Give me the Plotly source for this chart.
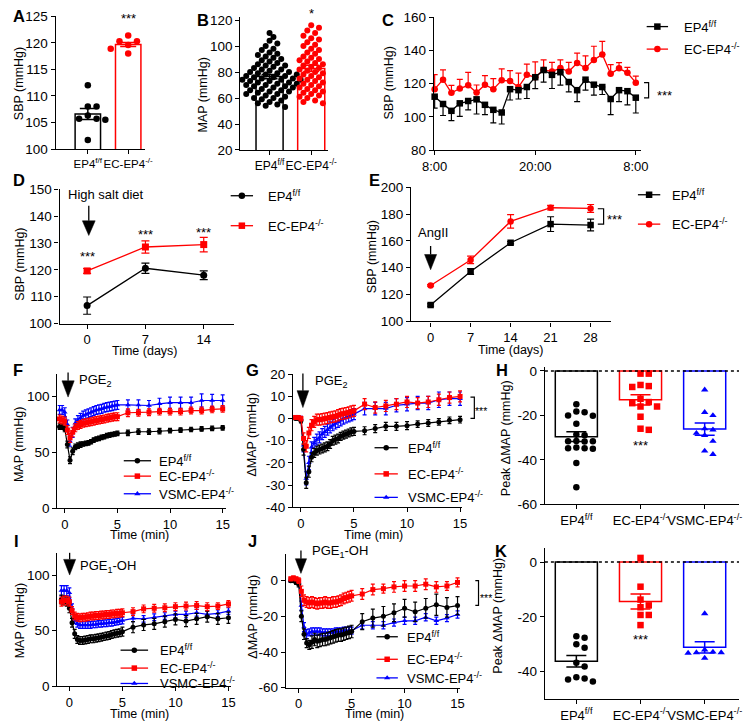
import numpy as np
import plotly.graph_objects as go

W, H = 748, 728
FONT = "Liberation Sans, Arial, Helvetica, sans-serif"
BLACK, RED, BLUE = "#000000", "#ff0000", "#0000ff"
TICK_SIZE, XTICK_SIZE, TITLE_SIZE, TEXT_SIZE, LEGEND_SIZE, LETTER_SIZE = 13.5, 13, 12.5, 13, 13, 16.5
CAT_SIZE = {"A": 11.5, "B": 12, "H": 13, "K": 13}

# ======================= DATA =======================
GROUP_LABELS = ["EP4<sup>f/f</sup>", "EC-EP4<sup>-/-</sup>", "VSMC-EP4<sup>-/-</sup>"]

# A: SBP (mmHg), individual mice
A_EP4 = [112.0, 108.0, 108.0, 106.3, 105.7, 105.7, 105.5, 101.7]
A_EC = [121.4, 120.3, 120.3, 120.2, 119.6, 118.9, 118.9, 118.0]

# B: MAP (mmHg), individual readings
B_EP4 = [110, 107, 104, 102, 100, 98, 97, 95, 94, 93,
         92, 91, 90, 89, 88, 87, 86, 85, 85, 84,
         83, 82, 82, 81, 80, 80, 79, 79, 78, 78,
         77, 77, 76, 76, 75, 75, 74, 74, 74, 73,
         73, 72, 72, 71, 71, 70, 70, 69, 69, 68,
         68, 67, 66, 66, 65, 65, 64, 63, 63, 62,
         61, 60, 60, 59, 58, 57, 56, 55, 54, 53]
B_EC = [116, 114, 112, 110, 108, 106, 105, 103, 101, 100,
        98, 97, 95, 94, 92, 91, 90, 89, 88, 87,
        86, 85, 84, 83, 82, 81, 80, 79, 78, 77,
        76, 75, 74, 73, 72, 71, 70, 69, 68, 67,
        66, 65, 64, 63, 62, 61, 60, 58, 57, 56]

# C: 24-h SBP telemetry (hours after 8:00)
C_HOURS = [0, 1, 2, 3, 4, 5, 6, 7, 8, 9, 10, 11, 12, 13, 14, 15, 16, 17, 18, 19, 20, 21, 22, 23, 24]
C_TICKVALS = [0, 12, 24]
C_TICKTEXT = ["8:00", "20:00", "8:00"]
C_EP4 = [112.2, 107.8, 103.7, 108.2, 109.6, 110.6, 107.3, 104.3, 102.7, 116.7,
         116.1, 118.0, 123.9, 128.2, 125.3, 126.9, 121.0, 116.1, 122.4, 119.4,
         118.0, 110.8, 116.1, 115.5, 111.6]
C_EP4_SE = [6.9, 6.9, 5.9, 7.8, 5.3, 8.8, 5.9, 7.8, 6.9, 6.5,
            5.3, 6.9, 6.9, 7.3, 8.2, 7.8, 5.9, 6.9, 6.3, 6.3,
            4.5, 9.4, 6.9, 8.2, 9.2]
C_EC = [116.7, 122.4, 114.5, 117.1, 119.0, 114.7, 119.4, 116.7, 122.0, 121.6,
        118.0, 125.3, 123.9, 128.4, 127.3, 129.4, 127.3, 132.4, 129.4, 134.3,
        137.6, 125.9, 129.2, 126.5, 120.6]
C_EC_SE = [8.8, 5.9, 4.5, 5.5, 7.8, 4.5, 5.5, 6.3, 6.9, 6.3,
           8.4, 6.5, 9.2, 5.9, 5.5, 4.9, 5.5, 5.9, 7.3, 8.2,
           7.8, 5.5, 3.5, 3.3, 3.9]

# D: high salt diet
D_DAYS = [0, 7, 14]
D_EP4 = [106.7, 120.6, 118.0]
D_EP4_SE = [3.2, 1.9, 1.6]
D_EC = [119.6, 128.5, 129.4]
D_EC_SE = [0.9, 2.3, 2.7]

# E: AngII
E_DAYS = [0, 7, 14, 21, 28]
E_EP4 = [112.2, 137.2, 158.6, 172.5, 171.8]
E_EP4_SE = [0.8, 2.2, 0.8, 5.5, 4.4]
E_EC = [126.8, 145.8, 174.5, 184.7, 184.2]
E_EC_SE = [0.6, 2.8, 5.0, 1.7, 2.9]

# F/G: PGE2 time courses (min)
T_FG = [-0.5, -0.25, 0, 0.25, 0.5, 0.75, 1, 1.25, 1.5, 1.75, 2, 2.25, 2.5, 2.75, 3, 3.25,
        3.5, 3.75, 4, 4.25, 4.5, 4.75, 5] + [6, 7, 8, 9, 10, 11, 12, 13, 14, 15]
F_EP4 = [73, 73, 71, 57, 43, 51, 55, 56, 57, 57.5, 58, 58.5, 59.5, 61, 62, 62.5, 63.5, 64, 65, 65.5,
         66, 66.5, 67] + [67.5, 68.5, 68.5, 69, 69.5, 70, 70.5, 71, 71.5, 72]
F_EP4_SE = [2.5, 2.5, 2.5, 3, 3, 3, 2.5, 2.5, 2.5, 2, 2, 2, 2, 2, 2, 2, 2, 2, 2, 2,
            2, 2, 2] + [2.5, 2.5, 2.5, 2.5, 2, 2, 2, 2, 2, 2]
F_EC = [80, 79, 78, 70, 63, 68, 72, 74, 75, 76, 76.5, 77, 77.5, 78, 78.5, 79, 79.5, 80, 80.5, 81,
        81.5, 82, 82] + [85.5, 85.5, 86, 86.5, 86.5, 86.5, 87.5, 87.5, 88.5, 89]
F_EC_SE = [3.5, 3.5, 3.5, 4, 4, 4, 3.5, 3.5, 3.5, 3.5, 3.5, 3.5, 3.5, 3.5, 3.5, 3.5, 3.5, 3.5, 3.5, 3.5,
           3.5, 3.5, 3.5] + [3.5, 3, 3, 3, 3, 3, 3, 3, 3, 3]
F_VSMC = [88, 88, 86, 75, 60, 68, 76, 79, 81, 83, 84, 85, 86, 87, 88, 88.5, 89, 90, 90.5, 91,
          91.5, 92, 92.5] + [92.5, 92.5, 92, 93.5, 94.5, 94.5, 94.5, 96.5, 96.5, 96.5]
F_VSMC_SE = [4, 4, 4, 4, 4.5, 4.5, 4, 4, 4, 4, 4, 4, 4, 4, 4, 4, 4, 4, 4, 4,
             4, 4, 4] + [4.5, 4.5, 4.5, 5, 5, 5, 5, 6, 5.5, 5]

G_EP4 = [0, 0, -1, -14, -29, -24, -17.5, -15.5, -14.5, -14, -13.5, -13, -12.5, -11.5, -10, -9.5,
         -9, -8, -7.5, -7, -6.5, -6, -5.8] + [-5.5, -4.5, -3.5, -3.5, -3.2, -2.5, -2, -1.5, -0.8, -0.5]
G_EP4_SE = [0.5, 0.5, 1, 2.5, 2.5, 2.5, 2, 2, 2, 2, 2, 2, 2, 2, 2, 2, 2, 1.8, 1.8, 1.8,
            1.8, 1.8, 1.8] + [1.8, 1.8, 1.8, 1.8, 1.8, 1.5, 1.5, 1.5, 1.5, 1.5]
G_EC = [0.5, 0.5, 0, -9, -12.5, -6.5, -3, -1.5, -0.5, -0.5, -0.3, 0, 0.2, 0.5, 0.8, 1, 1.5, 2, 2.2, 2.5,
        2.8, 3.2, 3.5] + [6.5, 5, 5.7, 6.5, 7.5, 7, 7.5, 8.5, 9.5, 10]
G_EC_SE = [0.8, 0.8, 1, 2.5, 2.5, 2.5, 2.5, 2.5, 2.5, 2.5, 2.5, 2.5, 2.5, 2.5, 2.5, 2.5, 2.5, 2.5, 2.5, 2.5,
           2.5, 2.5, 2.5] + [2.5, 2.5, 2.5, 2.5, 2.5, 2.5, 2.5, 2.5, 2.5, 2.5]
G_VSMC = [0.5, 0.5, 0, -12, -27, -20, -13, -11, -9.5, -8.5, -7, -6, -5, -4, -3, -2.2, -1.5, -0.8, 0, 0.5,
          1, 1.5, 2] + [4.5, 4.5, 4.5, 6, 6.5, 7, 7, 8.5, 9, 9]
G_VSMC_SE = [0.5, 0.5, 1, 3, 3, 3, 2.5, 2.5, 2.5, 2.5, 2.5, 2.5, 2.5, 2.5, 2.5, 2.5, 2.5, 2.5, 2.5, 2.5,
             2.5, 2.5, 2.5] + [2.8, 2.8, 2.8, 3, 3, 3, 3, 3.5, 3, 3]

# H: peak change in MAP after PGE2
H_EP4 = [-15.0, -18.3, -18.6, -20.2, -20.0, -23.8, -28.6, -28.9, -31.6, -31.6, -31.8, -31.5,
         -34.8, -34.8, -34.5, -35.0, -41.4, -52.4]
H_EC = [-1.2, -1.2, -6.3, -6.8, -7.2, -12.5, -14.0, -14.5, -16.0, -16.0, -20.6, -26.0, -26.5]
H_VSMC = [-8.5, -18.6, -20.0, -26.0, -26.5, -28.0, -29.0, -31.6, -36.0, -37.5]

# I/J: PGE1-OH time courses (min)
T_IJ = [-0.75, -0.5, -0.25, 0, 0.25, 0.5, 0.75, 1, 1.25, 1.5, 1.75, 2, 2.25, 2.5, 2.75, 3, 3.25,
        3.5, 3.75, 4, 4.25, 4.5, 4.75, 5] + [6, 7, 8, 9, 10, 11, 12, 13, 14, 15]
I_EP4 = [78, 77, 76, 70, 57, 47, 42, 41, 41, 41.5, 42, 42.5, 42.5, 43, 43.5, 44, 44.5, 45, 45.5, 46.5,
         47, 47.5, 48, 49] + [53, 55, 56, 58, 60, 58.5, 60.5, 62.5, 60.5, 61.5]
I_EP4_SE = [4, 4, 4, 4, 4, 4, 3.5, 3.5, 3.5, 3.5, 3.5, 3.5, 3.5, 3.5, 3.5, 3.5, 3.5, 3.5, 3.5, 3.5,
            3.5, 3.5, 3.5, 4] + [5, 5, 5, 5, 5, 5, 5, 5, 5, 5]
I_EC = [76, 77, 77, 76, 68, 63, 62, 61.5, 62, 62, 62.5, 63, 63, 63.5, 63.5, 64, 64, 64.5, 64.5, 65,
        65, 65.5, 65.5, 66] + [67, 69.5, 70, 70.5, 71.5, 72, 72.5, 71.5, 72, 74]
I_EC_SE = [4, 4, 4, 4, 3.5, 3.5, 3.5, 3.5, 3.5, 3.5, 3.5, 3.5, 3.5, 3.5, 3.5, 3.5, 3.5, 3.5, 3.5, 3.5,
           3.5, 3.5, 3.5, 3.5] + [3.5, 3.5, 3.5, 3.5, 3.5, 3.5, 3.5, 3.5, 3, 3]
I_VSMC = [86, 86, 86, 84, 70, 60, 56, 55, 55, 55, 55, 55, 55.5, 55.5, 56, 56, 56.5, 56.5, 57, 57,
          57.5, 58, 58.5, 59] + [61, 60.5, 62, 63, 64.5, 64.5, 66, 64.5, 65.5, 67.5]
I_VSMC_SE = [4.5, 4.5, 4.5, 4.5, 4, 3.5, 3, 3, 3, 3, 3, 3, 3, 3, 3, 3, 3, 3, 3, 3,
             3, 3, 3, 3] + [3, 3, 3, 3, 3, 3, 3, 3, 3, 3]

J_EP4 = [0, 0, -1, -2, -20, -30, -35, -36, -34.5, -33, -34, -33.5, -33, -33, -32.5, -32, -31.5, -31,
         -30.5, -30.5, -30, -29.5, -29, -28.5] + [-23, -21, -20, -18, -15.5, -17.5, -15.5, -13.5, -15, -14]
J_EP4_SE = [1, 1, 1, 1.5, 3, 3, 2.5, 2.5, 3.5, 3.5, 3.5, 3.5, 3.5, 3.5, 3.5, 3.5, 3.5, 3.5, 3.5, 3.5,
            3.5, 3.5, 3.5, 3.5] + [4.5, 5, 5.5, 5, 5, 5.5, 5.5, 6, 5.5, 5]
J_EC = [1, 1.5, 1, 0, -6, -11, -12, -12.5, -12, -12.5, -13, -12.5, -12.5, -12, -12.5, -12.5, -12, -12,
        -11.5, -11, -10, -9.5, -9, -8.5] + [-7.5, -5, -4.5, -3.5, -3, -3, -2, -3.5, -3, -1]
J_EC_SE = [1, 1, 1, 1.5, 3, 3, 3, 3, 3, 3, 3, 3, 3, 3, 3, 3, 3, 3, 3, 3,
           3, 3, 3, 3] + [3, 3, 2.5, 3, 3, 3, 3, 3, 2.5, 2.5]
J_VSMC = [0, 0, 0, -1, -14, -26, -30, -29, -28.5, -28.5, -28.5, -28.5, -29, -29, -29, -29, -29, -28.5,
          -28.5, -28.5, -28, -28, -28, -28] + [-25, -25, -25, -23.5, -22.5, -22.5, -20.5, -22.5, -21, -19]
J_VSMC_SE = [1, 1, 1, 1.5, 2.5, 2.5, 2.5, 2, 2, 2, 2, 2, 2, 2, 2, 2, 2, 2, 2, 2,
             2, 2, 2, 2] + [2, 2, 2, 2, 2, 2, 2, 2, 2, 2]

# K: peak change in MAP after PGE1-OH
K_EP4 = [-27.6, -27.1, -30.0, -31.3, -36.7, -38.1, -42.0, -42.8, -42.5, -43.6]
K_EC = [1.5, -9.0, -13.7, -15.8, -16.5, -19.3, -19.3, -23.0]
K_VSMC = [-18.8, -32.0, -32.8, -33.0, -33.0, -33.2, -35.0]

# ======================= LAYOUT GEOMETRY (pixels) =======================
# idx, x0, x1, ytop, ybottom, xrange, yrange, xtickvals, xticktext, ytickvals
GEOM = {
    "A": (1, 45, 137, 9.5, 145, [-0.795, 1.42], [100, 125], [0, 1], GROUP_LABELS[:2], [100, 105, 110, 115, 120, 125]),
    "B": (2, 235, 325, 10, 146, [-0.70, 1.40], [20, 122.5], [0, 1], GROUP_LABELS[:2], [20, 40, 60, 80, 100, 120]),
    "C": (3, 434, 647, 10.3, 146.3, [-0.1, 24.6], [80, 160], C_TICKVALS, C_TICKTEXT, [80, 100, 120, 140, 160]),
    "D": (4, 49, 228.3, 186, 323.3, [-3.3, 17.62], [100, 150], D_DAYS, None, [100, 110, 120, 130, 140, 150]),
    "E": (5, 410.7, 616, 184, 321, [-3.4, 31.52], [100, 200], E_DAYS, None, [100, 120, 140, 160, 180, 200]),
    "F": (6, 46.7, 220, 375, 511.7, [-0.70, 15.3], [0, 120], [0, 5, 10, 15], None, [0, 50, 100]),
    "G": (7, 289.3, 463, 375, 510.7, [-0.73, 15.18], [-40, 20], [0, 5, 10, 15], None, [-40, -30, -20, -10, 0, 10, 20]),
    "H": (8, 548.3, 748, 368, 507.7, [-0.49, 2.535], [-60, 1.6], [0, 1, 2], GROUP_LABELS, [-60, -40, -20, 0]),
    "I": (9, 46.7, 225, 557.3, 693.3, [-1.13, 15.21], [0, 120], [0, 5, 10, 15], None, [0, 50, 100]),
    "J": (10, 281.7, 461, 558.4, 695, [-1.22, 15.24], [-60, 15], [0, 5, 10, 15], None, [-60, -40, -20, 0]),
    "K": (11, 548.3, 748, 552.7, 706.7, [-0.49, 2.535], [-50, 5], [0, 1, 2], GROUP_LABELS, [-40, -20, 0]),
}
OV = 12  # overlay axis index (pixel coordinates)


def sfx(i):
    return "" if i == 1 else str(i)


def axn(i):
    return "x" + sfx(i), "y" + sfx(i)


layout = dict(
    width=W, height=H, margin=dict(l=0, r=0, t=0, b=0),
    paper_bgcolor="white", plot_bgcolor="rgba(0,0,0,0)",
    showlegend=False, barmode="overlay",
    font=dict(family=FONT, size=12, color="black"),
)

base_ax = dict(showline=True, linecolor="black", linewidth=1.3, ticks="outside", ticklen=4,
               tickwidth=1.3, tickcolor="black", showgrid=False, zeroline=False, fixedrange=True,
               tickangle=0, tickfont=dict(family=FONT, size=TICK_SIZE, color="black"))

for key, (i, x0, x1, yt, yb, xr, yr, xtv, xtt, ytv) in GEOM.items():
    s = sfx(i)
    xa = dict(base_ax, domain=[x0 / W, min(x1 / W, 1.0)], range=xr, anchor="y" + s,
              tickmode="array", tickvals=xtv, ticklabelstandoff=0,
              tickfont=dict(family=FONT, size=XTICK_SIZE, color="black"))
    if xtt is not None:
        xa["ticktext"] = xtt
        if key in CAT_SIZE:
            xa["tickfont"] = dict(family=FONT, size=CAT_SIZE[key], color="black")
    else:
        xa["ticktext"] = [str(v) for v in xtv]
    layout["xaxis" + s] = xa
    layout["yaxis" + s] = dict(base_ax, domain=[1 - yb / H, 1 - yt / H], range=yr, anchor="x" + s,
                               tickmode="array", tickvals=ytv, ticktext=[str(v) for v in ytv])

layout["xaxis%d" % OV] = dict(domain=[0, 1], range=[0, W], visible=False, fixedrange=True, anchor="y%d" % OV)
layout["yaxis%d" % OV] = dict(domain=[0, 1], range=[H, 0], visible=False, fixedrange=True, anchor="x%d" % OV)

traces = []
annotations = []
shapes = []


def px_scales(key):
    i, x0, x1, yt, yb, xr, yr = GEOM[key][:7]
    return (x1 - x0) / (xr[1] - xr[0]), (yb - yt) / (yr[1] - yr[0])


def swarm_offsets(vals, px_x, px_y, mind, step):
    order = sorted(range(len(vals)), key=lambda k: -vals[k])
    cands = [0.0]
    for j in range(1, 80):
        cands += [j * step, -j * step]
    placed = []
    offs = [0.0] * len(vals)
    for k in order:
        yp = vals[k] * px_y
        chosen = 0.0
        for c in cands:
            if all((c - qx) ** 2 + (yp - qy) ** 2 >= mind ** 2 for qx, qy in placed):
                chosen = c
                break
        placed.append((chosen, yp))
        offs[k] = chosen / px_x
    return offs


def bar_panel(key, groups, colors, symbols, width, cap, dot, mind, step):
    i = GEOM[key][0]
    xa, ya = axn(i)
    pxx, pxy = px_scales(key)
    for k, (vals, col, sym) in enumerate(zip(groups, colors, symbols)):
        m = float(np.mean(vals))
        se = float(np.std(vals, ddof=1) / np.sqrt(len(vals)))
        traces.append(go.Bar(x=[k], y=[m], width=width, xaxis=xa, yaxis=ya,
                             marker=dict(color="white", line=dict(color=col, width=1.5)),
                             error_y=dict(type="data", array=[se], color=col, thickness=1.5, width=cap),
                             hoverinfo="skip", showlegend=False))
    for k, (vals, col, sym) in enumerate(zip(groups, colors, symbols)):
        offs = swarm_offsets(vals, pxx, pxy, mind, step)
        traces.append(go.Scatter(x=[k + o for o in offs], y=vals, mode="markers", xaxis=xa, yaxis=ya,
                                 marker=dict(symbol=sym, size=dot, color=col, line=dict(width=0)),
                                 cliponaxis=False, hoverinfo="skip", showlegend=False))


def line_trace(key, x, y, se, color, symbol, size, cap, plus=True, minus=True, lw=1.3):
    xa, ya = axn(GEOM[key][0])
    zeros = [0] * len(se)
    traces.append(go.Scatter(
        x=x, y=y, xaxis=xa, yaxis=ya, mode="lines+markers",
        line=dict(color=color, width=lw),
        marker=dict(symbol=symbol, size=size, color=color, line=dict(width=0)),
        error_y=dict(type="data", symmetric=False, array=se if plus else zeros,
                     arrayminus=se if minus else zeros, color=color, thickness=1.2, width=cap),
        cliponaxis=False, hoverinfo="skip", showlegend=False))


# ---- bar / dot panels ----
bar_panel("A", [A_EP4, A_EC], [BLACK, RED], ["circle", "circle"], 0.63, 8, 6.5, 8, 9)
bar_panel("B", [B_EP4, B_EC], [BLACK, RED], ["circle", "circle"], 0.65, 8, 6, 5.5, 4)
bar_panel("H", [H_EP4, H_EC, H_VSMC], [BLACK, RED, BLUE], ["circle", "square", "triangle-up"], 0.656, 10, 6.5, 6.5, 8.5)
bar_panel("K", [K_EP4, K_EC, K_VSMC], [BLACK, RED, BLUE], ["circle", "square", "triangle-up"], 0.656, 10, 6.5, 6.5, 8.5)

# ---- C ----
line_trace("C", C_HOURS, C_EC, C_EC_SE, RED, "circle", 6.5, 3, plus=True, minus=False)
line_trace("C", C_HOURS, C_EP4, C_EP4_SE, BLACK, "square", 6.5, 3, plus=False, minus=True)
# ---- D ----
line_trace("D", D_DAYS, D_EP4, D_EP4_SE, BLACK, "circle", 7, 4)
line_trace("D", D_DAYS, D_EC, D_EC_SE, RED, "square", 7, 4)
# ---- E ----
line_trace("E", E_DAYS, E_EP4, E_EP4_SE, BLACK, "square", 6.5, 3.5)
line_trace("E", E_DAYS, E_EC, E_EC_SE, RED, "circle", 6.5, 3.5)
# ---- F, G, I, J ----
for key, T, ep, eps, ec, ecs, vs, vss in [
    ("F", T_FG, F_EP4, F_EP4_SE, F_EC, F_EC_SE, F_VSMC, F_VSMC_SE),
    ("G", T_FG, G_EP4, G_EP4_SE, G_EC, G_EC_SE, G_VSMC, G_VSMC_SE),
    ("I", T_IJ, I_EP4, I_EP4_SE, I_EC, I_EC_SE, I_VSMC, I_VSMC_SE),
    ("J", T_IJ, J_EP4, J_EP4_SE, J_EC, J_EC_SE, J_VSMC, J_VSMC_SE),
]:
    line_trace(key, T, vs, vss, BLUE, "triangle-up", 5, 2, lw=1.2)
    line_trace(key, T, ep, eps, BLACK, "circle", 5, 2, lw=1.2)
    line_trace(key, T, ec, ecs, RED, "square", 5, 2, lw=1.2)

# ---- zero dotted lines in H and K ----
for key in ("H", "K"):
    i = GEOM[key][0]
    s = sfx(i)
    shapes.append(dict(type="line", xref="x%s domain" % s, yref="y" + s, x0=0, x1=1, y0=0, y1=0,
                       line=dict(color="black", width=1.5, dash="dot"), layer="above"))

# ======================= ORNAMENTS (pixel coords on overlay) =======================
OX, OY = "x%d" % OV, "y%d" % OV


def text(t, x, y, size=TEXT_SIZE, xanchor="center", angle=0, bold=False):
    annotations.append(dict(text=("<b>%s</b>" % t) if bold else t, x=x, y=y, xref=OX, yref=OY,
                            showarrow=False, xanchor=xanchor, yanchor="middle", textangle=angle,
                            font=dict(family=FONT, size=size, color="black")))


def arrow(x, y_tail, y_base, y_tip, hw):
    shapes.append(dict(type="line", xref=OX, yref=OY, x0=x, x1=x, y0=y_tail, y1=y_base,
                       line=dict(color="black", width=1.3)))
    shapes.append(dict(type="path", xref=OX, yref=OY,
                       path="M %.1f,%.1f L %.1f,%.1f L %.1f,%.1f Z" % (x - hw, y_base, x + hw, y_base, x, y_tip),
                       fillcolor="black", line=dict(color="black", width=0.5)))


def bracket(x0, x1, yt, yb):
    shapes.append(dict(type="path", xref=OX, yref=OY,
                       path="M %.1f,%.1f L %.1f,%.1f L %.1f,%.1f L %.1f,%.1f" % (x0, yt, x1, yt, x1, yb, x0, yb),
                       line=dict(color="black", width=1.2)))


def legend_item(x0, x1, y, color, symbol, size, label, tx):
    traces.append(go.Scatter(x=[x0, x1], y=[y, y], mode="lines", xaxis=OX, yaxis=OY,
                             line=dict(color=color, width=1.3), hoverinfo="skip", showlegend=False,
                             cliponaxis=False))
    traces.append(go.Scatter(x=[(x0 + x1) / 2], y=[y], mode="markers", xaxis=OX, yaxis=OY,
                             marker=dict(symbol=symbol, size=size, color=color, line=dict(width=0)),
                             hoverinfo="skip", showlegend=False, cliponaxis=False))
    text(label, tx, y, size=LEGEND_SIZE, xanchor="left")


# panel letters
for letter, x, y in [("A", 7, 9), ("B", 197, 13), ("C", 387, 13), ("D", 7, 177), ("E", 373, 177),
                     ("F", 6, 371), ("G", 247, 371), ("H", 504, 371), ("I", 5, 545), ("J", 247, 545),
                     ("K", 503, 555)]:
    text(letter, x, y, size=LETTER_SIZE, bold=True)

# y axis titles
for t, x, y in [("SBP (mmHg)", 8, 78), ("MAP (mmHg)", 197, 90), ("SBP (mmHg)", 388, 78),
                ("SBP (mmHg)", 7.5, 263), ("SBP (mmHg)", 370, 255), ("MAP (mmHg)", 6.5, 447),
                ("ΔMAP (mmHg)", 246.5, 437), ("Peak ΔMAP (mmHg)", 508.5, 440),
                ("MAP (mmHg)", 8.5, 627), ("ΔMAP (mmHg)", 248.5, 623), ("Peak ΔMAP (mmHg)", 500.5, 621)]:
    text(t, x, y, size=TITLE_SIZE, angle=-90)

# x axis titles
for t, x, y in [("Time (days)", 137, 351), ("Time (days)", 513, 350), ("Time (min)", 131, 539),
                ("Time (min)", 372, 539), ("Time (min)", 131, 721.5), ("Time (min)", 373, 721.5)]:
    text(t, x, y, size=TITLE_SIZE)

# significance marks
for t, x, y, sz in [("***", 120, 12, 13), ("*", 308, 7, 13), ("***", 671, 90, 13),
                    ("***", 77.3, 255, 13), ("***", 137.3, 232.5, 13), ("***", 197.3, 230, 13),
                    ("***", 620, 217, 13), ("***", 482.5, 412, 10.5), ("***", 646.7, 448, 13),
                    ("***", 488, 603, 10.5), ("***", 646.7, 646, 13)]:
    text(t, x, y, size=sz)

bracket(650.3, 655, 77.3, 92.7)
bracket(602.7, 608.7, 206, 221.7)
bracket(471.7, 475.7, 398.3, 420)
bracket(476.7, 480, 585.7, 611)

# treatment arrows + labels
arrow(79, 203, 218.3, 233.3, 6.6)
text("High salt diet", 97, 191)
arrow(430.7, 244, 252.7, 268.3, 6.2)
text("AngII", 433, 230)
arrow(57.7, 373.3, 381.7, 398.3, 6.3)
text("PGE<sub>2</sub>", 66.7, 381, xanchor="left")
arrow(299.3, 374.3, 391.7, 409, 6)
text("PGE<sub>2</sub>", 309.3, 382, xanchor="left")
arrow(59.3, 557.3, 564, 580, 6.2)
text("PGE<sub>1</sub>-OH", 68.3, 571, xanchor="left")
arrow(297.3, 555, 563.3, 578.3, 5.8)
text("PGE<sub>1</sub>-OH", 306.7, 556, xanchor="left")

# legends
legend_item(653, 675, 20, BLACK, "square", 6.5, GROUP_LABELS[0], 689)
legend_item(653, 675, 43, RED, "circle", 6.5, GROUP_LABELS[1], 689)
legend_item(225, 248, 192.7, BLACK, "circle", 6.5, GROUP_LABELS[0], 261.7)
legend_item(225, 248, 223.3, RED, "square", 6.5, GROUP_LABELS[1], 261.7)
legend_item(644, 667, 191.7, BLACK, "square", 6.5, GROUP_LABELS[0], 676.7)
legend_item(644, 667, 221.7, RED, "circle", 6.5, GROUP_LABELS[1], 676.7)
for (lx0, lx1, ys, tx) in [(115, 143, (463.3, 479, 497), 149.3),
                           (373, 397, (450, 476.7, 500.7), 405.7),
                           (111.7, 140, (656.7, 675, 690.7), 150),
                           (375, 397, (643, 666, 685), 404.3)]:
    legend_item(lx0, lx1, ys[0], BLACK, "circle", 5.5, GROUP_LABELS[0], tx)
    legend_item(lx0, lx1, ys[1], RED, "square", 5.5, GROUP_LABELS[1], tx)
    legend_item(lx0, lx1, ys[2], BLUE, "triangle-up", 5.5, GROUP_LABELS[2], tx)

layout["annotations"] = annotations
layout["shapes"] = shapes

fig = go.Figure(data=traces, layout=layout)
fig.write_html(
    "out.html",
    config={"displayModeBar": False},
    post_script="document.body.style.margin='0';document.body.style.padding='0';"
                "document.body.style.overflow='hidden';",
)
